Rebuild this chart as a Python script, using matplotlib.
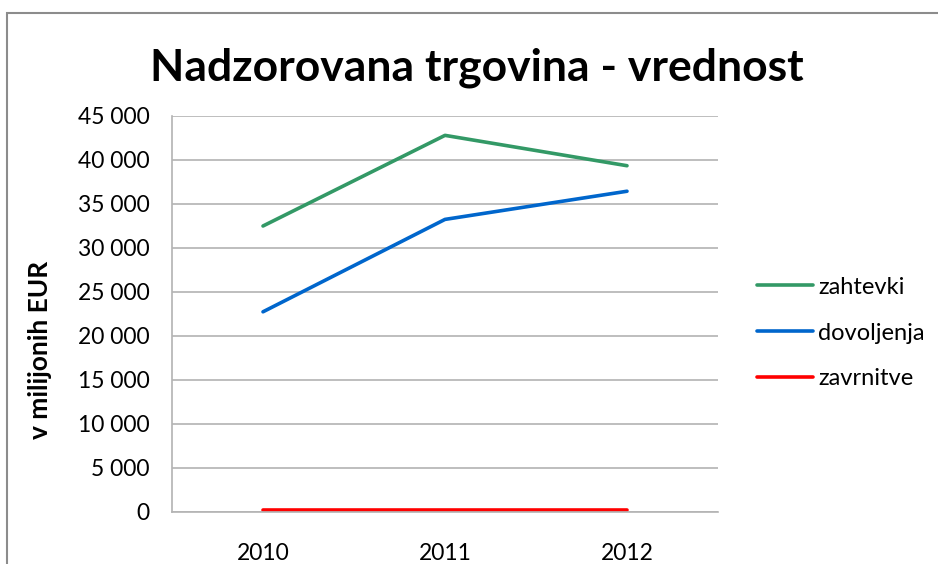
import matplotlib.pyplot as plt
from matplotlib.patches import Rectangle
from matplotlib.ticker import FuncFormatter

years = ['2010', '2011', '2012']
zahtevki = [32500, 42800, 39350]
dovoljenja = [22750, 33250, 36450]
zavrnitve = [250, 250, 250]

series_names = ['zahtevki', 'dovoljenja', 'zavrnitve']
series_colors = ['#339966', '#0066CC', '#FF0000']

plt.rcParams['font.family'] = ['Lato', 'DejaVu Sans']

fig = plt.figure(figsize=(9.38, 5.64), dpi=100)
ax = fig.add_axes([172 / 938, 1 - 512 / 564, 546 / 938, 396 / 564])

x = range(len(years))
for vals, name, col in zip([zahtevki, dovoljenja, zavrnitve], series_names, series_colors):
    ax.plot(x, vals, color=col, linewidth=2.6, label=name, solid_capstyle='round')

ax.set_xlim(-0.5, 2.5)
ax.set_ylim(0, 45000)
ax.set_yticks(range(0, 45001, 5000))
ax.yaxis.set_major_formatter(FuncFormatter(lambda v, p: f'{int(v):,}'.replace(',', ' ')))
ax.set_xticks(list(x))
ax.set_xticklabels(years)
ax.grid(axis='y', color='#B3B3B3', linewidth=1.2)
ax.set_axisbelow(True)
for s in ['top', 'right']:
    ax.spines[s].set_visible(False)
for s in ['left', 'bottom']:
    ax.spines[s].set_color('#B3B3B3')
    ax.spines[s].set_linewidth(1.2)
ax.tick_params(axis='both', length=0, labelsize=16.5, colors='black')
ax.tick_params(axis='y', pad=16)
ax.tick_params(axis='x', pad=22)

fig.text(477 / 938, 1 - 68 / 564, 'Nadzorovana trgovina - vrednost',
         ha='center', va='center', fontsize=32, fontweight='bold')
fig.text(40 / 938, 1 - 350 / 564, 'v milijonih EUR', rotation=90,
         ha='center', va='center', fontsize=19, fontweight='bold')

ax.legend(loc='center left', bbox_to_anchor=(745 / 938, 1 - 333 / 564),
          bbox_transform=fig.transFigure, frameon=False, fontsize=17,
          handlelength=2.4, handletextpad=0.2, labelspacing=1.05, borderpad=0)

fig.patches.append(Rectangle((7 / 938, -0.1), 1.2, 1 - 13 / 564 + 0.1,
                             transform=fig.transFigure, fill=False,
                             edgecolor='#8C8C8C', linewidth=1.5))

fig.savefig('out.png', dpi=100)
